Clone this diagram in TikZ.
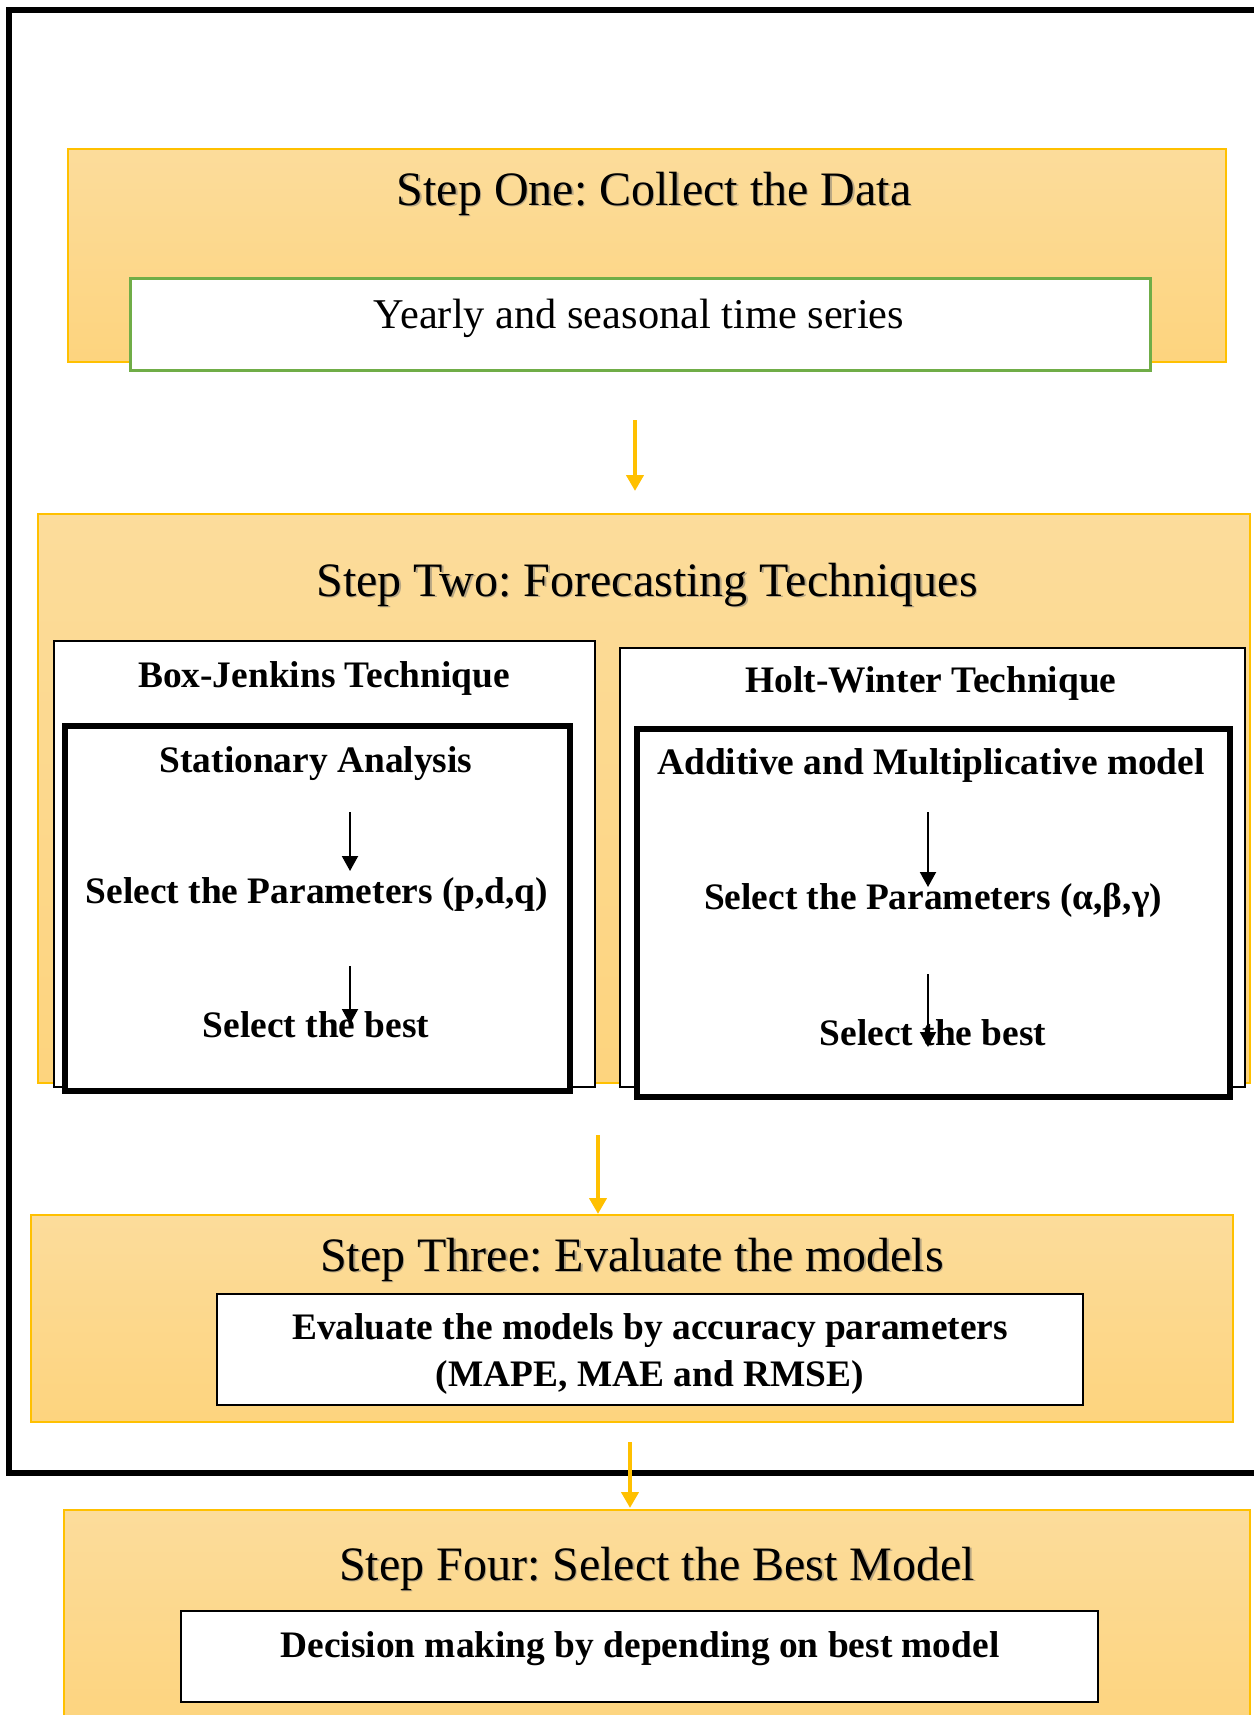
\documentclass[tikz,border=0pt]{standalone}
\usepackage{fontspec}
\setmainfont{Liberation Serif}
\usetikzlibrary{arrows.meta}
\frenchspacing
\definecolor{gold}{HTML}{FFC000}
\definecolor{ytop}{RGB}{252,220,155}
\definecolor{ybot}{RGB}{253,212,126}
\definecolor{grn}{HTML}{70AD47}
\tikzset{
  x=0.5pt, y=-0.5pt,
  ybox/.style={draw=gold, line width=0.8pt, top color=ytop, bottom color=ybot, inner sep=0pt, rectangle},
  wbox/.style={draw=black, line width=1pt, fill=white, inner sep=0pt, rectangle},
  thickbox/.style={draw=black, line width=2.8pt, fill=white, inner sep=0pt, rectangle},
  gbox/.style={draw=grn, line width=1.5pt, fill=white, inner sep=0pt, rectangle},
  frame/.style={draw=black, line width=3pt, inner sep=0pt, rectangle},
  titletxt/.style={anchor=base, inner sep=0pt, font=\fontsize{24}{28}\selectfont},
  titleshadow/.style={anchor=base, inner sep=0pt, font=\fontsize{24}{28}\selectfont, text=black!55, opacity=0.5},
  plaintxt/.style={anchor=base, inner sep=0pt, font=\fontsize{21.2}{25}\selectfont},
  boldtxt/.style={anchor=base, inner sep=0pt, font=\fontsize{18.7}{23}\selectfont\bfseries},
  yarrow/.style={draw=gold, line width=2pt, -{Triangle[width=8.5pt,length=8pt]}},
  barrow/.style={draw=black, line width=1pt, -{Triangle[width=8pt,length=7.5pt]}},
}
\begin{document}
\begin{tikzpicture}
\useasboundingbox (0,0) rectangle (1254,1715);
\fill[white] (0,0) rectangle (1254,1715);

% outer frame (runs past the right edge)
\node[frame, minimum width=626.5pt, minimum height=731.5pt] (frame) at (635.5,741.5) {};

% Step One
\node[ybox, minimum width=579pt, minimum height=106.5pt] (one) at (647,255.5) {};
\node[titleshadow] (t1s) at (655.5,206.5) {Step One: Collect the Data};
\node[titletxt] (t1) at (654,205) {Step One: Collect the Data};
\node[gbox, minimum width=510pt, minimum height=46pt] (data) at (640,324) {};
\node[plaintxt] (datat) at (639,328) {Yearly and seasonal time series};

\coordinate (a1s) at (635,420);
\coordinate (a1e) at (635,491);
\draw[yarrow] (a1s) -- (a1e);

% Step Two
\node[ybox, minimum width=606pt, minimum height=284.5pt] (two) at (644,798.5) {};
\node[titleshadow] (t2s) at (648.5,597.5) {Step Two: Forecasting Techniques};
\node[titletxt] (t2) at (647,596) {Step Two: Forecasting Techniques};

% Box-Jenkins
\node[wbox, minimum width=270.5pt, minimum height=223pt] (bj) at (324.5,864) {};
\node[boldtxt] (bjt) at (324,687) {Box-Jenkins Technique};
\node[thickbox, minimum width=252.5pt, minimum height=182.5pt] (sa) at (317.5,908.5) {};
\node[boldtxt] (sat) at (316,772) {Stationary Analysis};
\node[boldtxt] (spq) at (317,903) {Select the Parameters (p,d,q)};
\node[boldtxt] (sb1) at (316,1037) {Select the best};
\coordinate (b1s) at (350,812);
\coordinate (b1e) at (350,871);
\coordinate (b2s) at (350,966);
\coordinate (b2e) at (350,1024);
\draw[barrow] (b1s) -- (b1e);
\draw[barrow] (b2s) -- (b2e);

% Holt-Winter
\node[wbox, minimum width=312.5pt, minimum height=219.5pt] (hw) at (932.5,867.5) {};
\node[boldtxt] (hwt) at (931,692) {Holt-Winter Technique};
\node[thickbox, minimum width=296.5pt, minimum height=184pt] (am) at (933.5,913) {};
\node[boldtxt] (amt) at (931,774) {Additive and Multiplicative model};
\node[boldtxt] (sabg) at (933,909) {Select the Parameters (α,β,γ)};
\node[boldtxt] (sb2) at (933,1045) {Select the best};
\coordinate (c1s) at (928,812);
\coordinate (c1e) at (928,887);
\coordinate (c2s) at (928,974);
\coordinate (c2e) at (928,1047);
\draw[barrow] (c1s) -- (c1e);
\draw[barrow] (c2s) -- (c2e);

\coordinate (a2s) at (598,1135);
\coordinate (a2e) at (598,1214);
\draw[yarrow] (a2s) -- (a2e);

% Step Three
\node[ybox, minimum width=601pt, minimum height=103.5pt] (three) at (632,1318.5) {};
\node[titleshadow] (t3s) at (633.5,1272.5) {Step Three: Evaluate the models};
\node[titletxt] (t3) at (632,1271) {Step Three: Evaluate the models};
\node[wbox, minimum width=433pt, minimum height=55.5pt] (eval) at (650,1349.5) {};
\node[boldtxt] (ev1) at (650,1339) {Evaluate the models by accuracy parameters};
\node[boldtxt] (ev2) at (650,1386) {(MAPE, MAE and RMSE)};

\coordinate (a3s) at (630,1442);
\coordinate (a3e) at (630,1508);
\draw[yarrow] (a3s) -- (a3e);

% Step Four
\node[ybox, minimum width=593pt, minimum height=110pt] (four) at (657,1620) {};
\node[titleshadow] (t4s) at (658.5,1581.5) {Step Four: Select the Best Model};
\node[titletxt] (t4) at (657,1580) {Step Four: Select the Best Model};
\node[wbox, line width=1.2pt, minimum width=458.5pt, minimum height=45.5pt] (dec) at (639.5,1656.5) {};
\node[boldtxt] (dect) at (640,1657) {Decision making by depending on best model};
\end{tikzpicture}
\end{document}
